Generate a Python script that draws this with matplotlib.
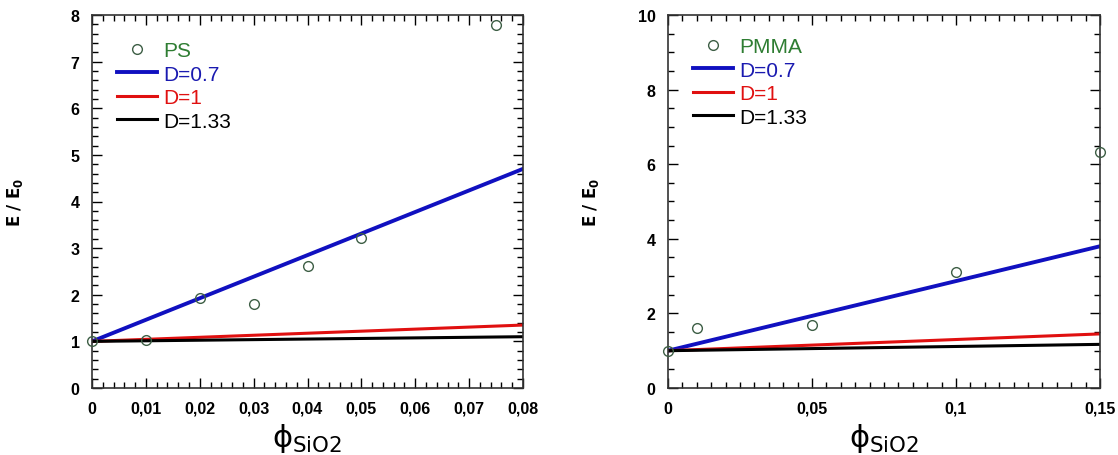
import matplotlib
matplotlib.use("Agg")
import matplotlib.pyplot as plt
from matplotlib.ticker import MultipleLocator, FuncFormatter

# ---- data ----
ps_phi = [0, 0.01, 0.02, 0.03, 0.04, 0.05, 0.075]
ps_E = [1.0, 1.03, 1.93, 1.8, 2.62, 3.22, 7.78]
ps_line_phi = [0, 0.08]
ps_d07 = [1.0, 4.7]
ps_d1 = [1.0, 1.35]
ps_d133 = [1.0, 1.1]

pmma_phi = [0, 0.01, 0.05, 0.1, 0.15]
pmma_E = [1.0, 1.6, 1.68, 3.12, 6.33]
pmma_line_phi = [0, 0.15]
pmma_d07 = [1.0, 3.8]
pmma_d1 = [1.0, 1.45]
pmma_d133 = [1.0, 1.17]

plt.rcParams["font.family"] = ["Liberation Sans", "DejaVu Sans"]

fig = plt.figure(figsize=(11.18, 4.56), dpi=100)
ax1 = fig.add_axes([92 / 1118, 1 - 389 / 456, (523 - 92) / 1118, (389 - 16) / 456])
ax2 = fig.add_axes([668 / 1118, 1 - 389 / 456, (1100 - 668) / 1118, (389 - 16) / 456])


def comma(x, pos):
    return ("%g" % round(x, 4)).replace(".", ",")


def style(ax, xmaj, xmin, ymaj, ymin, xlim, ylim):
    ax.set_xlim(*xlim)
    ax.set_ylim(*ylim)
    ax.xaxis.set_major_locator(MultipleLocator(xmaj))
    ax.xaxis.set_minor_locator(MultipleLocator(xmin))
    ax.yaxis.set_major_locator(MultipleLocator(ymaj))
    ax.yaxis.set_minor_locator(MultipleLocator(ymin))
    ax.xaxis.set_major_formatter(FuncFormatter(comma))
    ax.yaxis.set_major_formatter(FuncFormatter(comma))
    ax.tick_params(which="both", direction="in", top=True, right=True, width=1.0)
    ax.tick_params(which="major", length=7, labelsize=11.5, pad=9)
    ax.tick_params(which="minor", length=4)
    for lab in ax.get_xticklabels() + ax.get_yticklabels():
        lab.set_fontweight("bold")
    for sp in ax.spines.values():
        sp.set_linewidth(1.2)
        sp.set_color("#333333")
    ax.set_xlabel("ϕ$_{\\mathrm{SiO2}}$", fontsize=22, labelpad=4,
                  family="DejaVu Sans")
    ax.set_ylabel(r"$\mathbf{E\ /\ E_0}$", fontsize=12)
    ax.yaxis.set_label_coords(-0.155, 0.5)


def draw(ax, phi, E, lphi, d07, d1, d133, name, top):
    ax.plot(phi, E, "o", mfc="none", mec="#3d5e45", mew=1.0, ms=7, label=name,
            zorder=4, clip_on=False)
    ax.plot(lphi, d07, color="#1010c0", lw=2.8, label="D=0.7")
    ax.plot(lphi, d1, color="#e01010", lw=2.2, label="D=1")
    ax.plot(lphi, d133, color="black", lw=2.2, label="D=1.33")
    leg = ax.legend(loc="upper left", frameon=False, fontsize=15,
                    handlelength=1.9, handletextpad=0.3, labelspacing=0.22,
                    borderaxespad=0.0, borderpad=0.0,
                    bbox_to_anchor=(25 / 431, top))
    cols = ["#2e7d32", "#1a1ab0", "#e01010", "black"]
    for t, c in zip(leg.get_texts(), cols):
        t.set_color(c)


draw(ax1, ps_phi, ps_E, ps_line_phi, ps_d07, ps_d1, ps_d133, "PS", 1 - 26 / 373)
style(ax1, 0.01, 0.002, 1, 0.2, (0, 0.08), (0, 8))

draw(ax2, pmma_phi, pmma_E, pmma_line_phi, pmma_d07, pmma_d1, pmma_d133, "PMMA",
     1 - 22 / 373)
style(ax2, 0.05, 0.005, 2, 0.5, (0, 0.15), (0, 10))

fig.savefig("out.png", dpi=100)
